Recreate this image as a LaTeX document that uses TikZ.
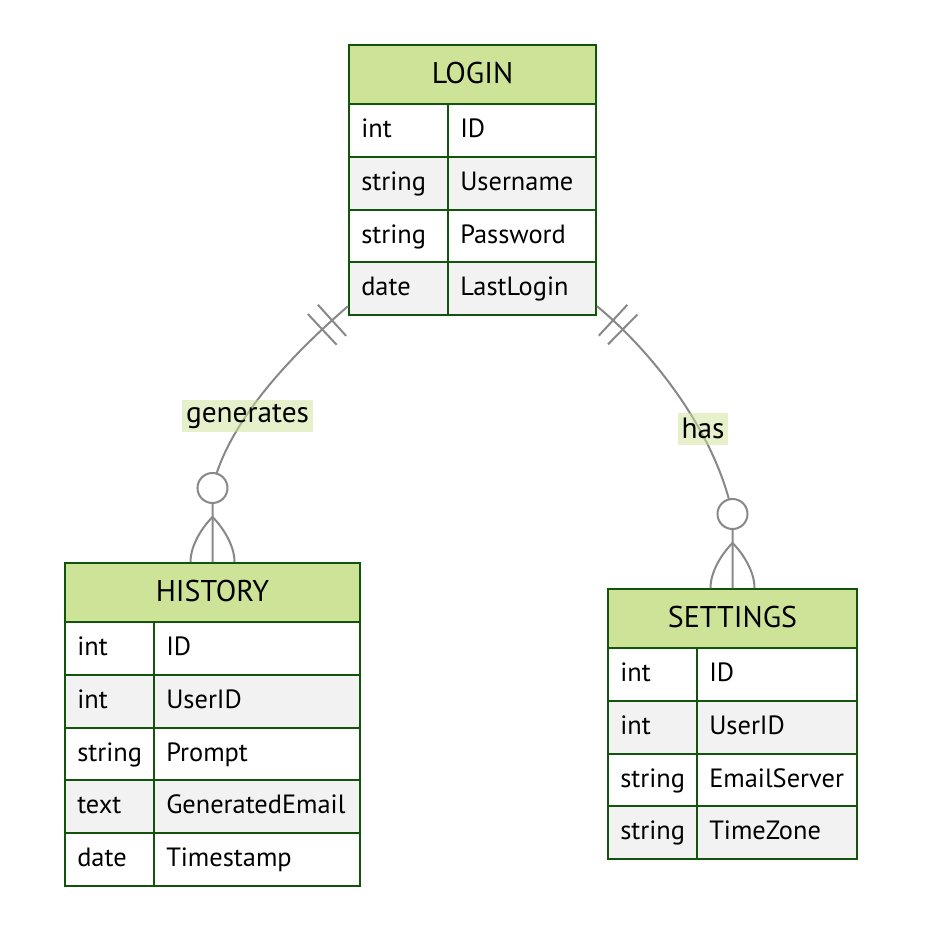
\documentclass[tikz,border=0pt]{standalone}
\usepackage{fontspec}
\setmainfont{PT Sans}
\usetikzlibrary{fit,decorations.markings,calc}
\definecolor{hdr}{HTML}{CDE498}
\definecolor{bord}{HTML}{13540C}
\definecolor{rowgray}{HTML}{F2F2F2}
\definecolor{edge}{HTML}{888888}
\tikzset{
  tbl/.style={draw=bord, line width=1.5pt},
  hdrtext/.style={font=\fontsize{22.5}{26}\selectfont, inner sep=0pt, text=black},
  rowtext/.style={font=\fontsize{19.8}{23}\selectfont, inner sep=0pt, text=black},
  conn/.style={draw=edge, line width=1.5pt},
  circ/.style={circle, draw=edge, line width=1.5pt, fill=white, minimum size=22.5pt, inner sep=0pt},
  lbl/.style={fill=hdr, fill opacity=0.5, text opacity=1, font=\fontsize{22}{26}\selectfont, inner xsep=3pt, minimum height=24pt, inner ysep=0pt},
  bars/.style={postaction={decorate}, decoration={markings,
     mark=at position 16pt with {\draw[conn] (0,-21) -- (0,21);},
     mark=at position 26pt with {\draw[conn] (0,-21) -- (0,21);}}}
}
\newcommand\ertable[8]{%
  \fill[hdr] (#2,#5) rectangle (#3,#5+59);
  \node[hdrtext, anchor=base] (#1-title) at ({(#2+#3)/2}, #5+38.5) {#6};
  \foreach[count=\i] \t/\f in {#7}{%
    \pgfmathsetmacro\ya{#5+59+(\i-1)*52.8}
    \ifodd\i\def\rc{white}\else\def\rc{rowgray}\fi
    \fill[fill=\rc] (#2,\ya) rectangle (#3,\ya+52.8);
    \draw[tbl] (#2,\ya) -- (#3,\ya);
    \node[rowtext, anchor=base west] (#1-t\i) at (#2+12,\ya+33.5) {\t};
    \node[rowtext, anchor=base west] (#1-f\i) at (#4+12,\ya+33.5) {\f};
  }
  \draw[tbl] (#4,#5+59) -- (#4,{#5+59+#8*52.8});
  \coordinate (#1-a) at (#2,#5);
  \coordinate (#1-b) at (#3,{#5+59+#8*52.8});
  \node[fit=(#1-a)(#1-b), inner sep=0pt, tbl] (#1) {};
}
\begin{document}
\begin{tikzpicture}[x=0.75pt, y=-0.75pt]
\useasboundingbox (0,0) rectangle (933,944);
\ertable{login}{349}{596}{448}{45}{LOGIN}{int/ID, string/Username, string/Password, date/LastLogin}{4}
\ertable{history}{65}{360}{154}{563}{HISTORY}{int/ID, int/UserID, string/Prompt, text/GeneratedEmail, date/Timestamp}{5}
\ertable{settings}{608}{857}{697}{589}{SETTINGS}{int/ID, int/UserID, string/EmailServer, string/TimeZone}{4}

% LOGIN -> HISTORY
\coordinate (hcc) at ($(history.north)+(0,-74)$);
\coordinate (hapex) at ($(history.north)+(0,-45)$);
\draw[conn, bars] ([yshift=7.5pt]login.south west) .. controls (295,352) and (228,420) .. (hcc) -- (history.north);
\node[lbl] (lgen) at (247.5,416) {generates};
\node[circ] (hc) at (hcc) {};
\draw[conn] ($(history.north)+(-22,0)$) .. controls +(0,-17) and +(-10,10) .. (hapex)
            .. controls +(10,10) and +(0,-17) .. ($(history.north)+(22,0)$);

% LOGIN -> SETTINGS
\coordinate (scc) at ($(settings.north)+(0,-74)$);
\coordinate (sapex) at ($(settings.north)+(0,-45)$);
\draw[conn, bars] ([yshift=7.5pt]login.south east) .. controls (650,350) and (715,430) .. (scc) -- (settings.north);
\node[lbl] (lhas) at (703,428.5) {has};
\node[circ] (sc) at (scc) {};
\draw[conn] ($(settings.north)+(-22,0)$) .. controls +(0,-17) and +(-10,10) .. (sapex)
            .. controls +(10,10) and +(0,-17) .. ($(settings.north)+(22,0)$);
\end{tikzpicture}
\end{document}
